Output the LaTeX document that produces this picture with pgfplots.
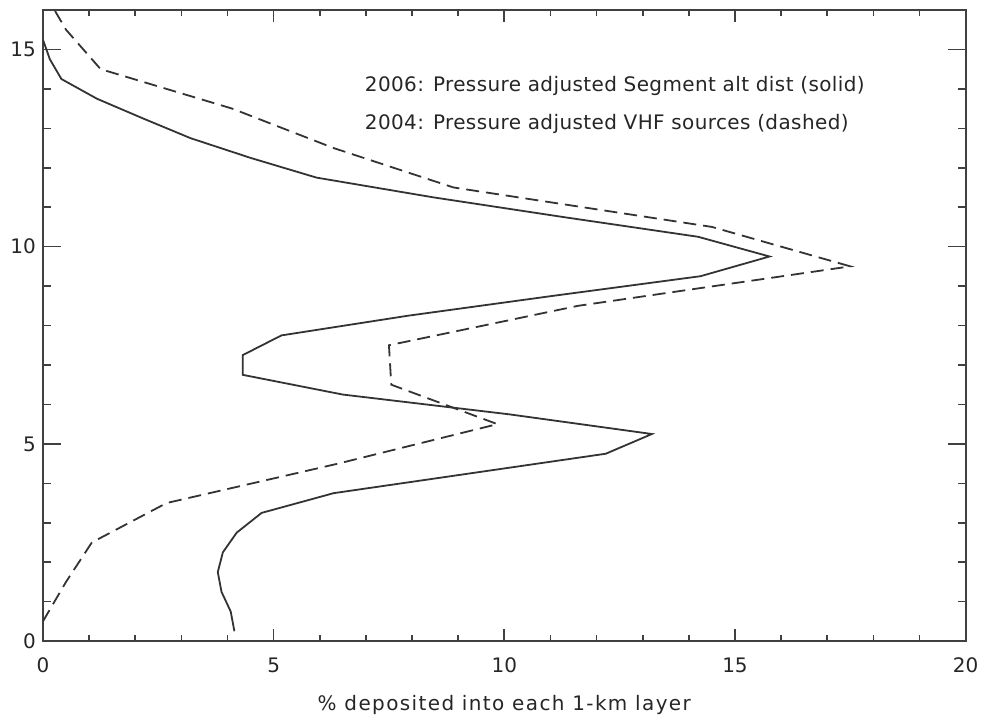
\documentclass[border=0pt]{standalone}
\usepackage{pgfplots}
\pgfplotsset{compat=1.18}
\usepackage{fontspec}
\setmainfont{DejaVu Sans}

% altitude profiles: x = percent per 1-km layer, y = altitude (km)
\pgfplotstableread{
x y
4.15 0.25
4.07 0.75
3.87 1.25
3.79 1.75
3.90 2.25
4.20 2.75
4.74 3.25
6.30 3.75
9.25 4.25
12.20 4.75
13.20 5.25
10.10 5.75
6.50 6.25
4.33 6.75
4.33 7.25
5.17 7.75
7.92 8.25
11.04 8.75
14.25 9.25
15.75 9.75
14.20 10.25
11.28 10.75
8.46 11.25
5.93 11.75
4.50 12.25
3.20 12.75
2.17 13.25
1.17 13.75
0.40 14.25
0.15 14.75
0.00 15.25
}\segdata

\pgfplotstableread{
x y
0.00 0.5
0.50 1.5
1.06 2.5
2.68 3.5
6.40 4.5
9.85 5.5
7.55 6.5
7.50 7.5
11.60 8.5
17.50 9.5
14.50 10.5
8.90 11.5
6.30 12.5
4.10 13.5
1.25 14.5
0.50 15.5
0.00 16.5
}\vhfdata

\pgfplotsset{
  frame/.style={
    scale only axis,
    width=462pt, height=316pt,
    xmin=0, xmax=20, ymin=0, ymax=16,
    tick align=inside,
  },
}

\begin{document}
\begin{tikzpicture}
\begin{axis}[
  frame,
  xtick={0,5,10,15,20}, ytick={0,5,10,15},
  minor y tick num=4,
  xtick style={draw=none},
  major tick length=9pt, minor tick length=4pt,
  axis line style={black!75, line width=0.9pt},
  ytick style={black!75, line width=0.8pt},
  tick label style={font=\fontsize{10}{12}\selectfont, text=black!85},
  xticklabel style={yshift=-5pt},
  /pgf/number format/assume math mode=true,
  xlabel={\addfontfeatures{LetterSpace=7}\% deposited into each 1-km layer},
  xlabel style={font=\fontsize{10}{12}\selectfont, text=black!85, yshift=-4pt},
]
\addplot[black!80, line width=0.9pt] table {\segdata};
\addplot[black!80, line width=0.9pt, dash pattern=on 6.5pt off 3.5pt] table {\vhfdata};
\node[anchor=west, font=\fontsize{10}{12}\selectfont\addfontfeatures{LetterSpace=2}, text=black!85, inner sep=0pt] at (axis cs:6.97,14.07) {2006: Pressure adjusted Segment alt dist (solid)};
\node[anchor=west, font=\fontsize{10}{12}\selectfont\addfontfeatures{LetterSpace=2}, text=black!85, inner sep=0pt] at (axis cs:6.97,13.10) {2004: Pressure adjusted VHF sources (dashed)};
\end{axis}
% shorter x ticks, as in the original
\begin{axis}[
  frame,
  xtick={0,5,10,15,20}, ytick=\empty,
  minor x tick num=4,
  xticklabels={},
  axis line style={draw=none},
  major tick length=6pt, minor tick length=3pt,
  xtick style={black!75, line width=0.8pt},
]
\end{axis}
\path ([shift={(-21.5pt,-34pt)}]current axis.south west) rectangle ([shift={(9pt,5pt)}]current axis.north east);
\end{tikzpicture}
\end{document}
